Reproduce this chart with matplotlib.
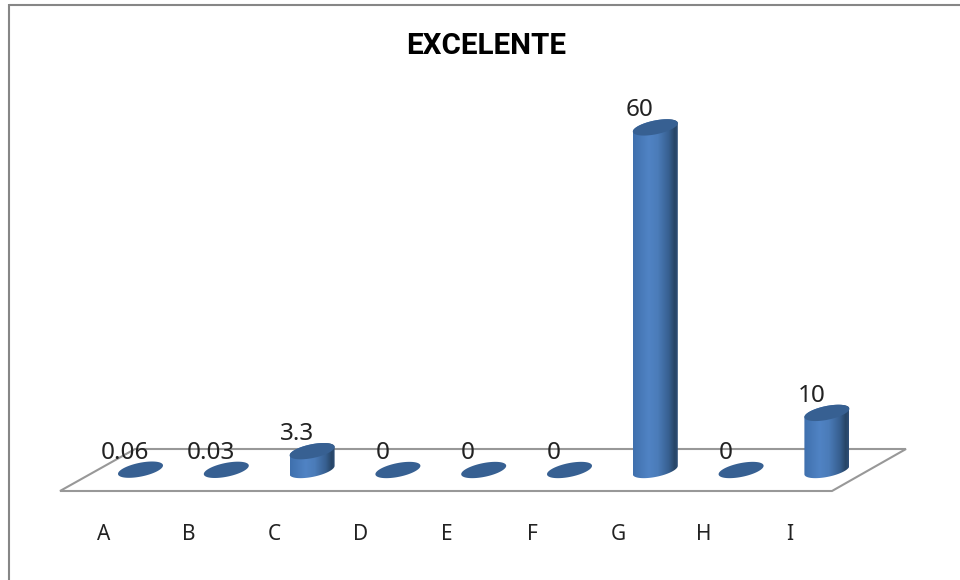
import numpy as np
import matplotlib
matplotlib.use("Agg")
import matplotlib.pyplot as plt
from matplotlib.colors import LinearSegmentedColormap
from matplotlib.patches import Polygon

categories = ["A", "B", "C", "D", "E", "F", "G", "H", "I"]
values = [0.06, 0.03, 3.3, 0, 0, 0, 60, 0, 10]
value_labels = ["0.06", "0.03", "3.3", "0", "0", "0", "60", "0", "10"]
chart_title = "EXCELENTE"

W, H = 960, 580
PX_PER_CAT = 85.8      # horizontal pixels per category
PX_PER_UNIT = 5.71     # vertical pixels per value unit
X0_PX = 140.5          # pixel column of the first cylinder
Y0_PX = 470.0          # pixel row of the value-zero plane

fig = plt.figure(figsize=(W / 100, H / 100), dpi=100, facecolor="white")
ax = fig.add_axes([0, 0, 1, 1])
ax.axis("off")

# Chart frame: only the top and left edges show
frame_color = "#868686"
ax.plot([8.5 / W, 1], [1 - 5 / H, 1 - 5 / H], transform=ax.transAxes,
        color=frame_color, lw=1.5, solid_capstyle="butt", clip_on=False)
ax.plot([8.5 / W, 8.5 / W], [1 - 4.3 / H, 0], transform=ax.transAxes,
        color=frame_color, lw=1.5, solid_capstyle="butt", clip_on=False)

# Floor of the 3-D plot
floor_px = np.array([[60, 491], [832, 491], [906, 449], [135, 449]], float)
floor_axes = np.column_stack([floor_px[:, 0] / W, 1 - floor_px[:, 1] / H])
ax.add_patch(Polygon(floor_axes, closed=True, transform=ax.transAxes,
                     facecolor="white", edgecolor="#989898", lw=1.5, zorder=1))

# Cylinder shading, left to right across the body
body_cmap = LinearSegmentedColormap.from_list(
    "body",
    [(0.0, "#3f70ad"), (0.35, "#5083c4"), (0.55, "#4b7cb9"),
     (0.8, "#375f90"), (0.93, "#274566"), (1.0, "#2e4f78")],
)
top_color = "#376092"
gradient = np.linspace(0, 1, 256).reshape(1, -1)

A_PX, TILT_PX, B_PX = 22.5, 4.2, 7.0   # ellipse half-width, tilt and half-height
t = np.linspace(0, 2 * np.pi, 121)
ex = A_PX * np.cos(t) / PX_PER_CAT
ey = (TILT_PX * np.cos(t) + B_PX * np.sin(t)) / PX_PER_UNIT

for i, v in enumerate(values):
    if v > 0.5:
        # Body outline: front arc of the base, then up and over to the top
        lower = t[(t >= np.pi)]
        bx = A_PX * np.cos(lower) / PX_PER_CAT + i
        by = (TILT_PX * np.cos(lower) + B_PX * np.sin(lower)) / PX_PER_UNIT
        upper = t[(t <= np.pi)]
        ux = A_PX * np.cos(upper) / PX_PER_CAT + i
        uy = (TILT_PX * np.cos(upper) + B_PX * np.sin(upper)) / PX_PER_UNIT + v
        outline = Polygon(np.column_stack([np.r_[bx, ux], np.r_[by, uy]]),
                          closed=True, transform=ax.transData, facecolor="none",
                          edgecolor="none")
        ax.add_patch(outline)
        img = ax.imshow(gradient, cmap=body_cmap, aspect="auto",
                        extent=[i - A_PX / PX_PER_CAT, i + A_PX / PX_PER_CAT,
                                -10 / PX_PER_UNIT, v + 10 / PX_PER_UNIT],
                        zorder=2)
        img.set_clip_path(outline)
    ax.fill(i + ex, v + ey, color=top_color, lw=0, zorder=3)
    ax.annotate(value_labels[i], (i, v), xytext=(-15.5 * 0.72, 17 * 0.72),
                textcoords="offset points", ha="center", va="center",
                fontsize=17.5, family="Noto Sans", color="#222222", zorder=5)
    ax.annotate(categories[i], (i, 0), xytext=(-37.3 * 0.72, -64.5 * 0.72),
                textcoords="offset points", ha="center", va="center",
                fontsize=15, family="Noto Sans", color="#222222", zorder=5)

# Pin the limits last, since images widen them when added
ax.set_xlim(-X0_PX / PX_PER_CAT, (W - X0_PX) / PX_PER_CAT)
ax.set_ylim(-(H - Y0_PX) / PX_PER_UNIT, Y0_PX / PX_PER_UNIT)

ax.text(486.5 / W, 1 - 46 / H, chart_title, transform=ax.transAxes,
        ha="center", va="center", fontsize=21.3, fontweight="bold",
        family="Roboto", color="black")

fig.savefig("out.png", dpi=100, facecolor="white")
